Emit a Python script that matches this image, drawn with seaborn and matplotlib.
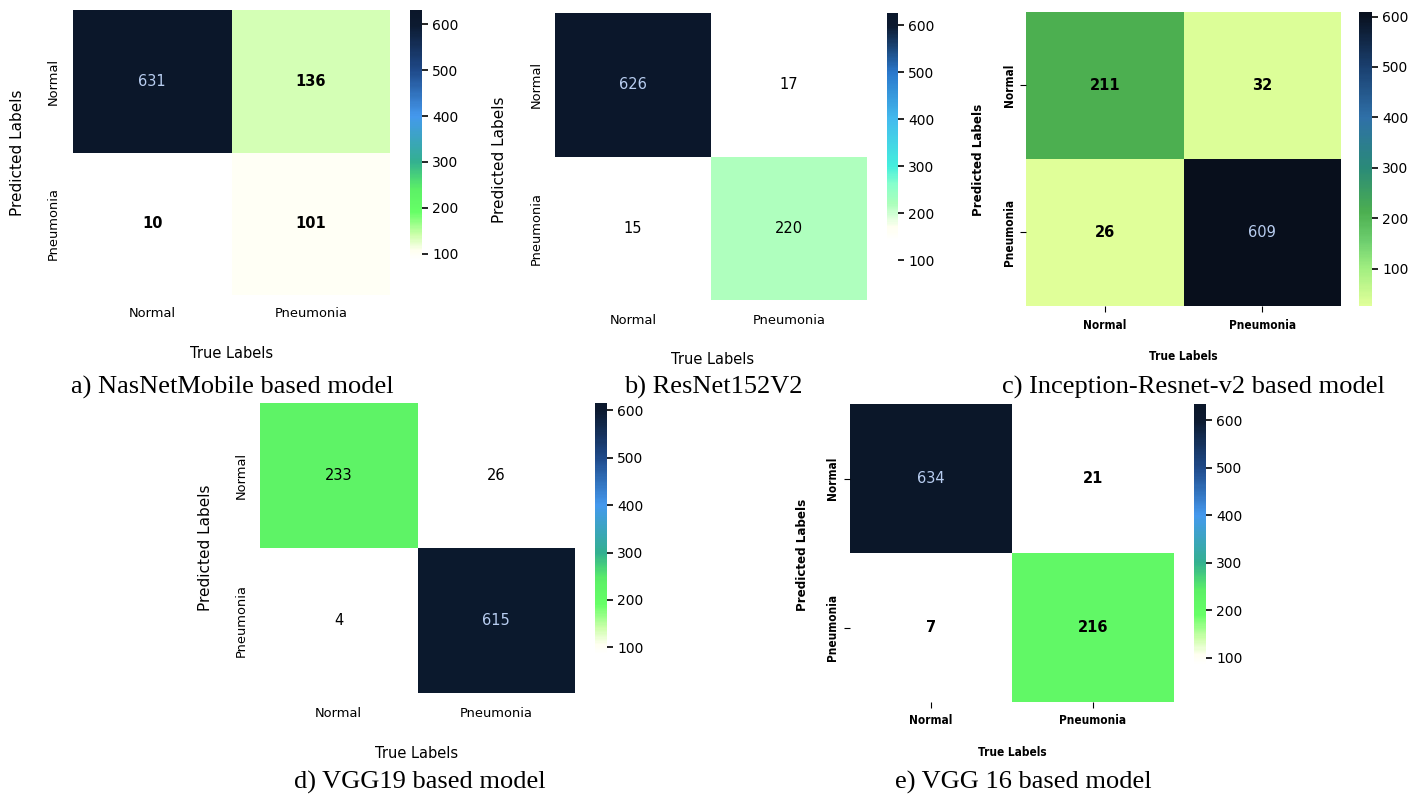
import numpy as np
import pandas as pd
import matplotlib
matplotlib.use("Agg")
import matplotlib.pyplot as plt
from matplotlib.colors import LinearSegmentedColormap, ListedColormap
import seaborn as sns

# ---------------- data ----------------
class_labels = ["Normal", "Pneumonia"]
nasnet_cm = [[631, 136], [10, 101]]
resnet_cm = [[626, 17], [15, 220]]
inception_cm = [[211, 32], [26, 609]]
vgg19_cm = [[233, 26], [4, 615]]
vgg16_cm = [[634, 21], [7, 216]]
captions = ["a) NasNetMobile based model", "b) ResNet152V2",
            "c) Inception-Resnet-v2 based model",
            "d) VGG19 based model", "e) VGG 16 based model"]
xlabel_text = "True Labels"
ylabel_text = "Predicted Labels"

W, H = 1426, 798
fig = plt.figure(figsize=(W / 100, H / 100), dpi=100)
fig.patch.set_facecolor("white")


def abs_cmap(stops):
    vals = [s[0] for s in stops]
    lo, hi = vals[0], vals[-1]
    return LinearSegmentedColormap.from_list(
        "c", [((v - lo) / (hi - lo), c) for v, c in stops]), lo, hi


def sliced_cmap(stops, vmin, vmax):
    base, lo, hi = abs_cmap(stops)
    xs = (np.linspace(vmin, vmax, 256) - lo) / (hi - lo)
    return ListedColormap(base(np.clip(xs, 0, 1)))


green_blue = [(0, "#ffffff"), (85, "#ffffff"), (105, "#fffff0"), (140, "#ccffaa"),
              (190, "#66ff66"), (240, "#5cf066"), (300, "#33b090"), (400, "#4499ee"),
              (500, "#1f4a8a"), (600, "#0c1a30"), (700, "#08101c")]
mint_blue = [(0, "#ffffff"), (140, "#ffffff"), (170, "#fffff0"), (220, "#aaffbb"),
             (260, "#88ffcc"), (300, "#44eedd"), (400, "#44bbee"), (500, "#2a78cc"),
             (600, "#0c1a30"), (700, "#08101c")]
yellow_green = [(0, "#e8ffa0"), (26, "#e0ff99"), (100, "#a0ee80"), (150, "#70d070"),
                (211, "#4caf50"), (300, "#2a8a78"), (400, "#2f70a8"), (500, "#1a4070"),
                (609, "#080f1c"), (700, "#080f1c")]


def px_rect(l, t, r, b):
    return [l / W, 1 - b / H, (r - l) / W, (b - t) / H]


panels = [
    dict(data=nasnet_cm, stops=green_blue, hm=(73, 10, 390, 295), cb=(410, 10, 422, 295),
         ylab=(18, 153), xlab=(232, 353), ytick_pad=13, xtick_pad=12, ticklen=0,
         bold=False, light_bold=True, cap=(232, 387)),
    dict(data=resnet_cm, stops=mint_blue, hm=(555, 13, 867, 300), cb=(887, 13, 898, 300),
         ylab=(500, 160), xlab=(713, 360), ytick_pad=12, xtick_pad=14, ticklen=0,
         bold=False, light_bold=False, cap=(713, 387)),
    dict(data=inception_cm, stops=yellow_green, hm=(1026, 12, 1341, 306), cb=(1359, 12, 1372, 306),
         ylab=(978, 160), xlab=(1183, 357), ytick_pad=4, xtick_pad=7, ticklen=4,
         bold=True, light_bold=True, cap=(1193, 387)),
    dict(data=vgg19_cm, stops=green_blue, hm=(260, 403, 575, 693), cb=(595, 403, 607, 693),
         ylab=(205, 548), xlab=(417, 753), ytick_pad=12, xtick_pad=14, ticklen=0,
         bold=False, light_bold=False, cap=(420, 782)),
    dict(data=vgg16_cm, stops=green_blue, hm=(850, 404, 1174, 702), cb=(1194, 404, 1206, 702),
         ylab=(802, 555), xlab=(1012, 753), ytick_pad=5, xtick_pad=6, ticklen=4,
         bold=True, light_bold=True, cap=(1023, 782)),
]

for p, cap in zip(panels, captions):
    df = pd.DataFrame(p["data"], index=class_labels, columns=class_labels)
    vmin, vmax = df.values.min(), df.values.max()
    cmap = sliced_cmap(p["stops"], vmin, vmax)
    ax = fig.add_axes(px_rect(*p["hm"]))
    cax = fig.add_axes(px_rect(*p["cb"]))
    sns.heatmap(df, ax=ax, cbar_ax=cax, cmap=cmap, vmin=vmin, vmax=vmax,
                annot=True, fmt="d", annot_kws={"fontsize": 10.5})
    for t in ax.texts:
        v = int(t.get_text())
        if v > 450:
            t.set_color("#b8cdf0")
            t.set_fontweight("normal")
        else:
            t.set_color("#000000")
            t.set_fontweight("bold" if p["light_bold"] else "normal")
    if p["bold"]:
        fkw = dict(fontweight="bold", fontstretch="condensed")
        fs_tick, fs_xlab, fs_ylab = 8.5, 8.5, 9.5
    else:
        fkw = dict(fontweight="normal")
        fs_tick, fs_xlab, fs_ylab = 9.4, 10.5, 11
    ax.set_xticklabels(class_labels, fontsize=fs_tick, rotation=0, **fkw)
    ax.set_yticklabels(class_labels, fontsize=fs_tick, rotation=90, va="center", **fkw)
    ax.tick_params(axis="x", length=p["ticklen"], pad=p["xtick_pad"] * 0.72)
    ax.tick_params(axis="y", length=p["ticklen"], pad=p["ytick_pad"] * 0.72)
    l, t, r, b = p["hm"]
    ax.set_xlabel(xlabel_text, fontsize=fs_xlab, va="center", ha="center", **fkw)
    ax.set_ylabel(ylabel_text, fontsize=fs_ylab, va="center", ha="center", **fkw)
    ax.xaxis.set_label_coords((p["xlab"][0] - l) / (r - l), (b - p["xlab"][1]) / (b - t))
    ax.yaxis.set_label_coords((p["ylab"][0] - l) / (r - l), (b - p["ylab"][1]) / (b - t))
    cax.tick_params(labelsize=10, length=4, width=1.2)
    cax.set_yticks([100, 200, 300, 400, 500, 600])
    fig.text(p["cap"][0] / W, 1 - p["cap"][1] / H, cap, ha="center", va="center",
             fontsize=19, family="Liberation Serif")

fig.savefig("out.png", dpi=100, facecolor="white")
